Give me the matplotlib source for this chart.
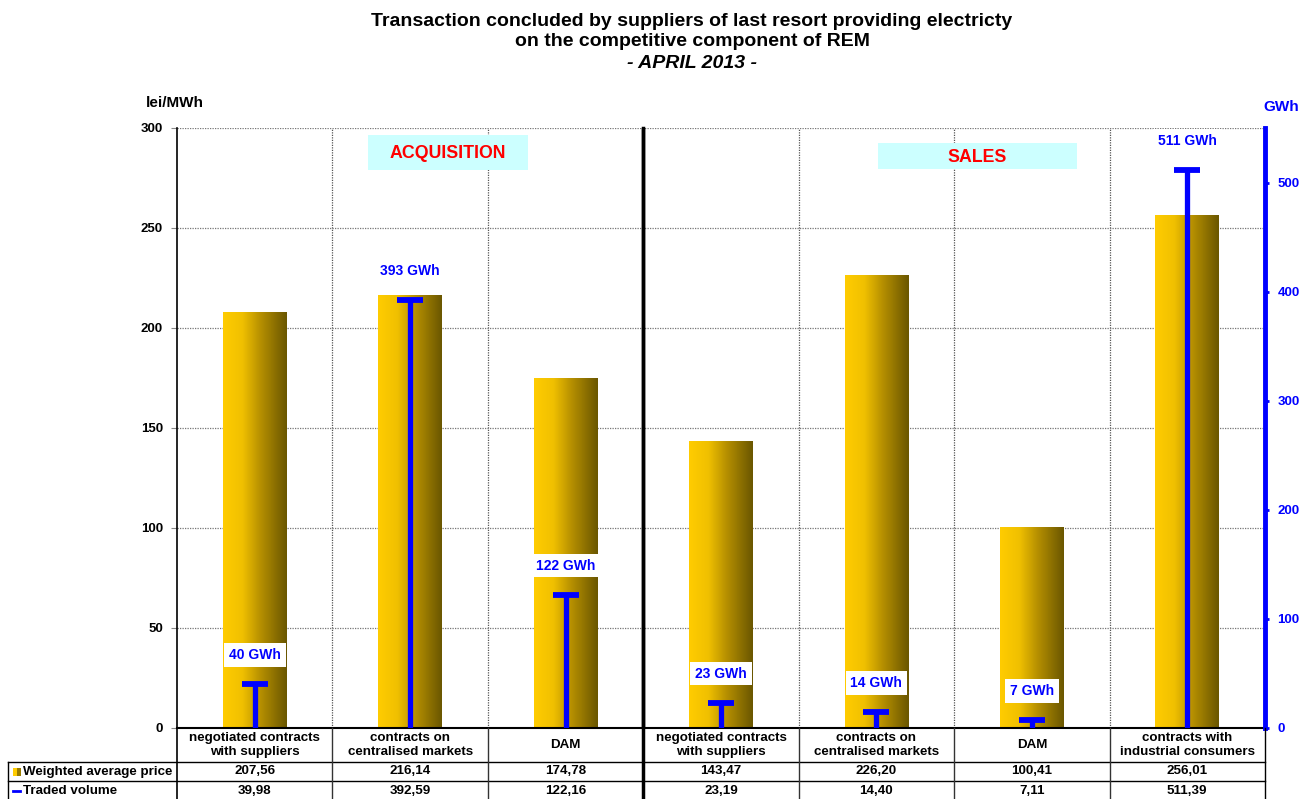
import numpy as np
import matplotlib
matplotlib.use("Agg")
from matplotlib import pyplot as plt
from matplotlib.colors import LinearSegmentedColormap
from matplotlib.patches import Rectangle
from matplotlib.lines import Line2D

plt.rcParams['font.family'] = ['Liberation Sans', 'DejaVu Sans']
plt.rcParams['font.weight'] = 'bold'

categories = ["negotiated contracts\nwith suppliers", "contracts on\ncentralised markets", "DAM",
              "negotiated contracts\nwith suppliers", "contracts on\ncentralised markets", "DAM",
              "contracts with\nindustrial consumers"]
price = [207.56, 216.14, 174.78, 143.47, 226.20, 100.41, 256.01]
volume = [39.98, 392.59, 122.16, 23.19, 14.40, 7.11, 511.39]
row_labels = ["Weighted average price", "Traded volume"]

W_PX, H_PX = 1314, 799
fig = plt.figure(figsize=(W_PX / 100, H_PX / 100), dpi=100)


def fx(px):
    return px / W_PX


def fy(py):
    return 1 - py / H_PX


AX_L, AX_R, AX_T, AX_B = 177, 1265, 128, 728
ax = fig.add_axes([fx(AX_L), fy(AX_B), fx(AX_R - AX_L), fy(AX_T) - fy(AX_B)])
n = len(categories)
x = np.arange(n)

gold = LinearSegmentedColormap.from_list(
    "gold", [(0, "#ffcc00"), (0.3, "#f0c000"), (0.6, "#b48e00"), (1, "#6b5700")])
grad = np.linspace(0, 1, 64).reshape(1, -1)
bw = 0.41
for i, p in enumerate(price):
    ax.imshow(grad, cmap=gold, aspect='auto', extent=[i - bw / 2, i + bw / 2, 0, p],
              zorder=2, interpolation='bilinear')

ax.set_xlim(-0.5, n - 0.5)
ax.set_ylim(0, 300)
ax.set_yticks(np.arange(0, 301, 50))
ax.set_xticks([])
ax.set_xticks(np.arange(0.5, n - 1, 1), minor=True)
ax.tick_params(axis='x', which='both', length=0, labelbottom=False)
ax.tick_params(axis='y', length=4, color='#888888', labelsize=9.5, pad=6)
for lab in ax.get_yticklabels():
    lab.set_fontweight('bold')
ax.grid(axis='y', which='major', color='#777777', linestyle=(0, (1, 1)), lw=0.9, zorder=0)
ax.grid(axis='x', which='minor', color='#555555', linestyle=(0, (1, 1)), lw=0.9, zorder=0)
for s in ['top', 'right']:
    ax.spines[s].set_visible(False)
ax.spines['left'].set_linewidth(1.2)
ax.spines['bottom'].set_linewidth(1.5)
ax.axvline(2.5, color='black', lw=2.5, zorder=3)

# boxed section headings (boxes in pixel space)
for label, (x0, y0, x1, y1) in [("ACQUISITION", (368, 135, 528, 170)),
                                ("SALES", (878, 143, 1077, 169))]:
    fig.add_artist(Rectangle((fx(x0), fy(y1)), fx(x1 - x0), fy(y0) - fy(y1),
                             facecolor='#ccffff', edgecolor='none', zorder=5))
    fig.text(fx((x0 + x1) / 2), fy((y0 + y1) / 2 + 1), label, ha='center', va='center',
             color='red', fontsize=12.8, fontweight='bold', zorder=6)

# traded volume on the secondary axis
ax2 = ax.twinx()
ax2.set_ylim(0, 550)
ax2.set_yticks(np.arange(0, 501, 100))
for s in ['top', 'left', 'bottom']:
    ax2.spines[s].set_visible(False)
ax2.spines['right'].set_color('blue')
ax2.spines['right'].set_linewidth(3.5)
ax2.tick_params(axis='y', colors='blue', length=3, width=2, labelsize=9.5, pad=6)
for lab in ax2.get_yticklabels():
    lab.set_fontweight('bold')
ax2.vlines(x, 0, volume, color='blue', lw=3.8, zorder=4)
ax2.plot(x, volume, linestyle='none', marker='_', markersize=19, markeredgewidth=4.2,
         color='blue', zorder=4)
for i, v in enumerate(volume):
    ax2.annotate(f"{round(v)} GWh", (i, v), xytext=(0, 21), textcoords='offset points',
                 ha='center', va='center', color='blue', fontsize=10, fontweight='bold',
                 zorder=6, annotation_clip=False,
                 bbox=dict(boxstyle='square,pad=0.35', fc='white', ec='none'))

# titles and axis units
fig.text(fx(692), fy(21), "Transaction concluded by suppliers of last resort providing electricty",
         ha='center', va='center', fontsize=14, fontweight='bold')
fig.text(fx(692), fy(42), "on the competitive component of REM",
         ha='center', va='center', fontsize=14, fontweight='bold')
fig.text(fx(692), fy(63), "- APRIL 2013 -", ha='center', va='center',
         fontsize=14, fontweight='bold', style='italic')
fig.text(fx(175), fy(103), "lei/MWh", ha='center', va='center', fontsize=11, fontweight='bold')
fig.text(fx(1281), fy(107), "GWh", ha='center', va='center', fontsize=11, fontweight='bold',
         color='blue')

# data table under the plot
col_w = (AX_R - AX_L) / n
rows_y = [AX_B, 762, 781, 800]
tab_l = 8


def hline(y, x0, x1, lw=1.0, c='black'):
    fig.add_artist(Line2D([fx(x0), fx(x1)], [fy(y), fy(y)], color=c, lw=lw))


def vline(xp, y0, y1, lw=1.0, c='black'):
    fig.add_artist(Line2D([fx(xp), fx(xp)], [fy(y0), fy(y1)], color=c, lw=lw))


hline(rows_y[1], tab_l, AX_R)
hline(rows_y[2], tab_l, AX_R)
vline(tab_l, rows_y[1], rows_y[3])
vline(AX_L, rows_y[0], rows_y[3], lw=1.2)
vline(AX_R, rows_y[0], rows_y[3])
for k in range(1, n):
    xp = AX_L + k * col_w
    if k == 3:
        vline(xp, AX_T, rows_y[3], lw=2.5)
    else:
        vline(xp, rows_y[0], rows_y[3], c='#333333')

for i in range(n):
    cx = fx(AX_L + (i + 0.5) * col_w)
    fig.text(cx, fy((rows_y[0] + rows_y[1]) / 2), categories[i], ha='center', va='center',
             fontsize=9.6, fontweight='bold', linespacing=1.2)
    fig.text(cx, fy((rows_y[1] + rows_y[2]) / 2), f"{price[i]:.2f}".replace('.', ','),
             ha='center', va='center', fontsize=9.6, fontweight='bold')
    fig.text(cx, fy((rows_y[2] + rows_y[3]) / 2), f"{volume[i]:.2f}".replace('.', ','),
             ha='center', va='center', fontsize=9.6, fontweight='bold')

# legend keys inside the row headers
fig.add_artist(Rectangle((fx(13), fy(776)), fx(4), fy(768) - fy(776), facecolor='#ffcc00',
                         edgecolor='none'))
fig.add_artist(Rectangle((fx(17), fy(776)), fx(4), fy(768) - fy(776), facecolor='#9a7c00',
                         edgecolor='none'))
fig.add_artist(Line2D([fx(13), fx(20)], [fy(790.5), fy(790.5)], color='blue', lw=2))
fig.text(fx(23), fy((rows_y[1] + rows_y[2]) / 2), row_labels[0], ha='left', va='center',
         fontsize=9.6, fontweight='bold')
fig.text(fx(23), fy((rows_y[2] + rows_y[3]) / 2), row_labels[1], ha='left', va='center',
         fontsize=9.6, fontweight='bold')

fig.savefig("out.png", dpi=100)
